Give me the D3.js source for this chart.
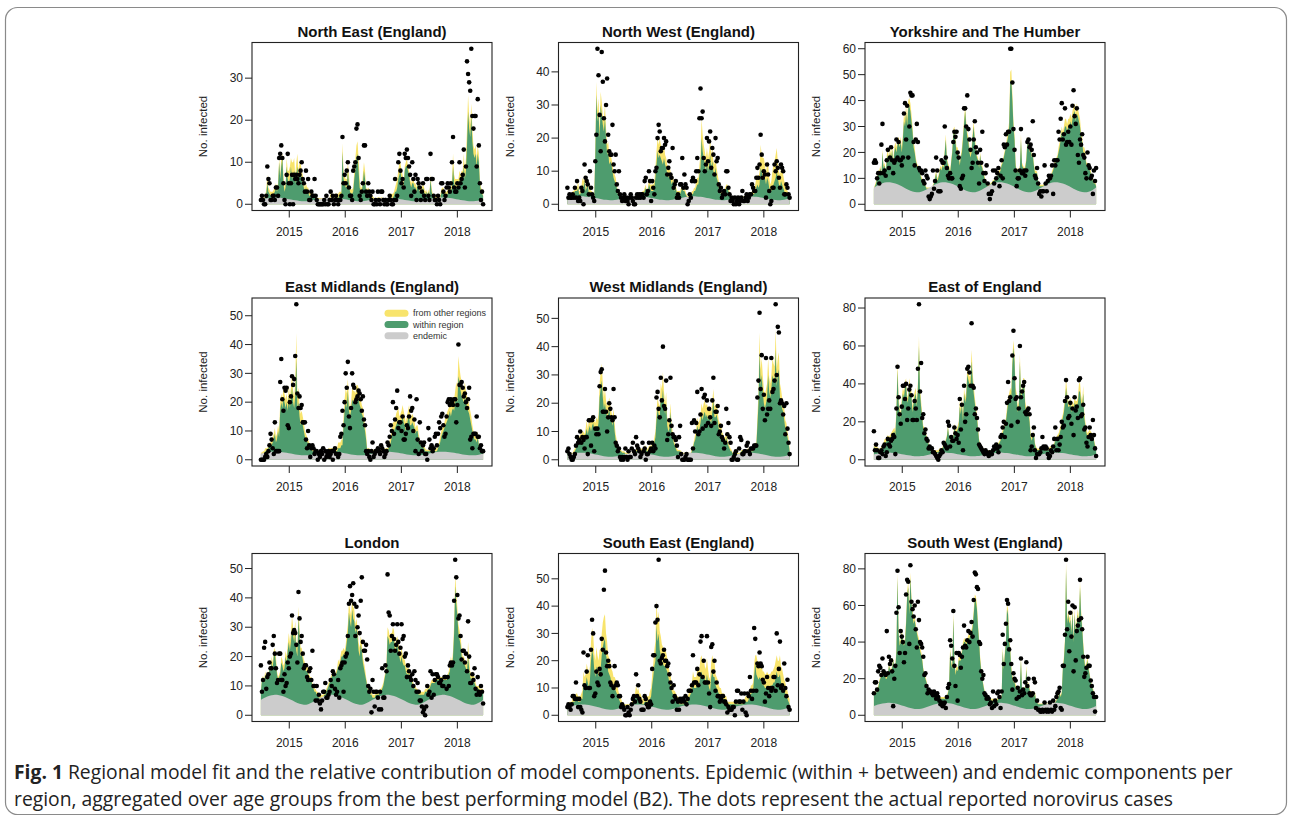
<!DOCTYPE html>
<html><head><meta charset="utf-8">
<script src="https://cdn.jsdelivr.net/npm/d3@7"></script>
<style>body{margin:0;background:#fff;} svg{display:block}</style>
</head><body>
<svg id="chart" width="1292" height="818"></svg>
<script>
// ---------------- DATA ----------------
const regions = ["North East (England)","North West (England)","Yorkshire and The Humber",
  "East Midlands (England)","West Midlands (England)","East of England",
  "London","South East (England)","South West (England)"];
const yearLabels = ["2015","2016","2017","2018"];
const legendLabels = ["from other regions","within region","endemic"];
const yAxisTitle = "No. infected";
const firstWeek = "2014-06-30";   // first weekly observation
const endemicStepWeeks = 4;       // endemic component read every 4 weeks

const yTicksNE=[0,10,20,30], yTicksNW=[0,10,20,30,40], yTicksYH=[0,10,20,30,40,50,60],
      yTicksEM=[0,10,20,30,40,50], yTicksWM=[0,10,20,30,40,50], yTicksEE=[0,20,40,60,80],
      yTicksLO=[0,10,20,30,40,50], yTicksSE=[0,10,20,30,40,50], yTicksSW=[0,20,40,60,80];

// observed weekly cases (dots)
const obsNE=[1,2,1,0,0,2,9,6,5,1,1,2,2,1,4,4,2,11,12,14,11,5,1,0,7,12,
5,0,5,7,0,7,6,7,6,5,7,8,10,6,5,3,8,3,6,1,1,3,2,2,6,2,
1,0,0,0,0,0,0,1,0,2,0,0,1,3,1,2,0,1,2,1,0,1,1,2,16,5,
7,5,8,10,4,2,2,1,8,9,10,18,19,11,2,1,3,5,14,14,3,2,5,3,2,1,
3,0,0,1,0,3,1,0,3,3,1,0,1,0,0,1,2,1,0,0,1,6,1,2,10,12,
8,5,6,4,12,11,13,11,9,7,2,10,6,3,7,1,6,5,4,1,3,5,2,1,6,6,
2,1,12,6,6,2,1,1,0,2,1,0,5,5,3,1,2,4,5,4,3,5,10,16,4,3,
3,5,4,10,5,6,7,13,4,9,34,31,29,27,37,21,18,21,21,9,25,14,5,1,3,0];
const withinNE=[1.5,1.5,1.2,1,1.5,2.5,5,3,2.5,2,2,2,2.5,3,4,3,4,10,6,9,11,5,3,4,9,6,
5,6,9,6,7,8,5,7,9,6,7,8,6,5,4,3,4,3,3,2,2,2,2,1.5,2,1.5,
1.2,1,1,1,1,1,1,1,1,1.2,1,1,1.2,1.5,1.5,1.5,1.3,1.5,1.5,1.5,1.5,2,2,2,12.5,6,
5,4,4,8,5,3,2.5,2.5,3,6,8,11,12,8,4,3,3,5,8,6,3,2.5,3,2.5,2,1.5,
1.5,1.2,1,1,1,1.2,1.2,1,1.2,1.2,1,1,1,1,1,1.2,1.5,1.5,1.5,1.5,2,3,3,4,6,7,
8,6,5,4,8,9,9,8,7,5,4,5,5,4,4,3,5,4,3,3,3,4,3,2,3,2,
3,2,6,3,2,2,1.5,1.5,1.2,1.5,1.5,1.5,2.5,3,3,2,2,2,2.5,3,3,3,4,9,5,4,
4,4,4,6,5,6,6,9,6,8,14,22,18,16,21,15,12,11,12,9,12,10,5,3,2.5,2];
const otherNE=[0.5,0.5,0.5,0.5,0.5,1,2,1,1,1,1,1,1,1,1,1,1,1,1,2,1,2,1,1,2,2,
3,3,2,4,3,3,2,3,3,2,3,2,2,2,1,1,1,1,1,1,1,1,1,0.5,0.5,0.5,
0.5,0.5,0.5,0.5,0.5,0.5,0.5,0.5,0.5,0.5,0.5,0.5,0.5,1,1,1,1,1,1,1,1,1,1,1,2,2,
2,2,2,2,2,1,1,1,1,2,3,3,3,3,2,1,1,2,2,2,1,1,1,1,1,0.5,
0.5,0.5,0.5,0.5,0.5,0.5,0.5,0.5,0.5,0.5,0.5,0.5,0.5,0.5,0.5,0.5,1,1,1,1,1,1,2,2,2,3,
2,2,2,1,1,1,2,1,1,1,1,1,1,1,1,1,1,1,1,1,1,1,1,1,0.5,0.5,
0.5,0.5,1,1,0.5,0.5,0.5,0.5,0.5,0.5,0.5,0.5,1,1,1,1,1,1,1,1,1,1,2,3,2,2,
2,2,2,2,2,2,2,3,2,3,4,4,3,3,3,3,2,2,2,2,2,2,1,1,1,0.5];
const endemicNE=[1.15,1.38,1.53,1.6,1.6,1.51,1.35,1.15,0.95,0.79,0.7,0.75,0.93,
1.15,1.38,1.53,1.6,1.6,1.51,1.35,1.15,0.95,0.79,0.7,0.75,0.93,
1.15,1.38,1.53,1.6,1.6,1.51,1.35,1.15,0.95,0.79,0.7,0.75,0.93,
1.15,1.38,1.53,1.6,1.6,1.51,1.35,1.15,0.95,0.79,0.7,0.75,0.93,1.15];

const obsNW=[5,2,3,2,2,3,2,5,2,7,1,2,1,5,4,0,12,8,7,6,3,10,5,3,2,1,
13,21,47,39,27,16,46,37,26,19,30,38,21,16,15,15,24,12,10,15,6,4,10,3,2,1,
2,3,1,2,1,0,2,3,2,1,0,0,2,3,2,3,2,3,3,2,7,8,3,4,10,7,
1,7,5,3,10,11,20,24,22,16,17,17,20,18,19,9,11,13,9,8,17,5,6,7,2,3,
2,6,6,14,5,9,6,5,0,1,3,2,7,8,7,7,10,14,10,26,35,26,28,14,10,12,
20,13,19,22,11,17,15,9,20,13,14,6,4,5,2,3,4,3,10,10,5,3,1,2,1,0,
2,0,1,2,0,1,2,4,1,1,2,3,1,2,3,3,6,5,4,4,8,11,8,12,21,15,
8,10,9,2,12,9,4,0,1,5,5,12,10,13,11,8,5,12,11,10,3,3,6,5,3,2];
const withinNW=[2,2,2,2,2,3,3,4,4,4,5,3,3,4,6,5,7,4,5,6,3,4,3,3,2,2,
15,33,25,28,20,30,27,24,22,26,20,15,16,12,13,12,10,8,7,6,5,3,3,2.5,2,2,
2,2,1.5,1.5,1.5,1.5,1.5,1.5,1.5,1.5,1.5,2,2,2,2,2,2,2,3,3,4,5,3,4,6,5,
4,4,4,5,8,12,16,14,15,14,13,12,14,12,11,9,8,9,8,6,7,5,4,5,3,3,
3,3,4,5,4,4,3,2.5,2,2,2,2,3,3,4,4,5,6,6,9,11,20,16,14,12,10,
13,10,12,15,11,13,10,9,11,8,7,5,4,3,3,3,3,4,5,5,4,3,2.5,2,2,2,
1.5,1.5,1.5,1.5,1.5,1.5,1.5,2,2,2,2,2,2,2,2,2.5,3,3,3,4,5,6,5,6,11,10,
8,9,8,6,8,7,5,4,4,5,6,7,8,10,8,6,5,7,6,5,4,3,3,3,2.5,2];
const otherNW=[0.5,0.5,0.5,0.5,1,1,1,1,1,1,2,1,1,1,2,2,2,1,1,2,1,1,1,1,0.5,0.5,
2,4,3,4,3,4,4,3,4,4,3,3,3,3,2,2,2,2,2,2,1,1,1,1,0.5,0.5,
0.5,0.5,0.5,0.5,0.5,0.5,0.5,0.5,0.5,0.5,0.5,0.5,1,1,1,1,1,1,1,1,1,1,1,1,2,1,
2,2,2,2,3,4,4,4,5,4,4,4,4,3,3,3,3,3,2,2,2,2,1,1,1,1,
1,1,1,1,1,1,1,0.5,0.5,0.5,0.5,0.5,1,1,1,1,2,2,2,3,4,6,5,4,4,4,
4,4,4,5,4,4,3,3,3,3,2,2,2,1,1,1,1,1,1,1,1,1,0.5,0.5,0.5,0.5,
0.5,0.5,0.5,0.5,0.5,0.5,0.5,0.5,0.5,0.5,0.5,0.5,1,1,1,1,1,1,2,2,3,3,3,4,7,5,
6,5,4,3,5,5,3,2,3,5,6,6,7,7,5,4,4,4,5,4,3,3,2,1,1,1];
const endemicNW=[1.8,2.1,2.3,2.4,2.4,2.28,2.06,1.8,1.54,1.32,1.2,1.27,1.5,
1.8,2.1,2.3,2.4,2.4,2.28,2.06,1.8,1.54,1.32,1.2,1.27,1.5,
1.8,2.1,2.3,2.4,2.4,2.28,2.06,1.8,1.54,1.32,1.2,1.27,1.5,
1.8,2.1,2.3,2.4,2.4,2.28,2.06,1.8,1.54,1.32,1.2,1.27,1.5,1.8];

const obsYH=[16,17,16,10,12,8,12,23,31,12,13,11,17,21,14,18,22,17,12,16,17,25,18,24,17,17,
15,18,35,39,25,38,18,30,43,42,42,24,15,25,31,24,14,13,13,12,9,8,13,11,10,3,
2,3,4,13,6,9,18,13,5,5,5,17,16,16,30,18,14,11,10,12,10,10,24,28,26,28,
20,18,7,6,10,11,37,37,30,42,29,25,21,14,16,25,32,22,20,16,8,21,16,28,12,9,
12,15,8,4,2,4,5,13,8,13,10,12,14,7,11,17,10,23,22,27,23,28,28,60,60,47,
29,21,13,7,10,10,13,29,12,12,13,11,13,24,25,22,23,21,32,19,11,10,14,8,4,5,
3,5,5,15,8,5,9,11,10,11,15,4,17,15,17,17,28,25,33,39,25,27,37,23,24,28,
24,30,23,38,44,34,31,37,19,16,25,23,27,19,18,12,10,20,15,14,10,11,4,13,9,14];
const withinYH=[6,7,8,10,12,12,14,11,20,14,15,12,17,19,16,20,17,21,15,20,22,20,23,24,22,24,
20,25,32,30,35,30,37,38,36,32,28,22,20,17,15,14,13,12,10,9,8,8,7,6,6,6,
6,6,6,7,8,10,12,9,10,12,14,13,15,14,20,25,17,15,14,12,16,20,27,28,24,20,
20,18,15,18,20,25,31,36,30,26,24,20,18,20,26,30,24,20,18,17,14,19,15,14,12,10,
9,8,7,7,7,8,8,9,9,10,10,11,12,12,13,15,16,18,20,22,24,26,30,47,48,40,
30,25,15,12,13,12,14,25,15,14,13,14,17,24,23,20,22,18,19,15,12,12,12,9,7,7,
7,7,7,8,8,8,9,10,10,11,12,13,15,16,17,18,20,22,25,28,26,28,30,30,28,30,
30,32,30,33,35,36,32,35,34,32,30,26,24,20,20,18,15,15,14,13,12,10,9,8,8,7];
const otherYH=[0.5,0.5,1,1,1,1,1,1,1,1,1,1,2,2,2,2,2,2,2,2,2,2,2,2,2,2,
2,2,3,3,3,3,3,3,3,3,2,2,2,1,1,1,1,1,1,1,1,1,0.5,0.5,0.5,0.5,
0.5,0.5,0.5,0.5,0.5,1,1,1,1,1,1,1,1,1,1,2,1,1,1,1,1,1,2,2,2,2,
2,2,1,1,2,2,2,2,2,2,2,2,2,2,2,2,2,2,1,1,1,1,1,1,1,1,
0.5,0.5,0.5,0.5,0.5,0.5,0.5,0.5,0.5,0.5,0.5,0.5,1,1,1,1,1,1,1,1,2,2,2,4,4,3,
2,2,1,1,1,1,1,2,1,1,1,1,1,2,2,1,2,1,1,1,1,1,0.5,0.5,0.5,0.5,
0.5,0.5,0.5,0.5,0.5,0.5,0.5,0.5,0.5,0.5,1,1,1,1,1,1,2,2,2,2,2,2,3,3,3,3,
3,3,3,3,3,3,3,4,3,3,3,2,2,2,2,2,1,1,1,1,1,1,1,1,0.5,0.5];
const endemicYH=[6.5,7.5,8.2,8.5,8.5,8.1,7.4,6.5,5.6,4.9,4.5,4.7,5.5,
6.5,7.5,8.2,8.5,8.5,8.1,7.4,6.5,5.6,4.9,4.5,4.7,5.5,
6.5,7.5,8.2,8.5,8.5,8.1,7.4,6.5,5.6,4.9,4.5,4.7,5.5,
6.5,7.5,8.2,8.5,8.5,8.1,7.4,6.5,5.6,4.9,4.5,4.7,5.5,6.5];

const obsEM=[0,0,0,0,1,2,1,3,5,9,7,4,2,13,3,3,3,3,27,35,21,17,25,24,25,12,
11,20,22,29,26,28,36,54,23,18,22,18,19,13,13,13,7,4,10,5,1,4,5,4,2,3,
3,0,2,1,3,2,4,0,3,1,2,3,1,2,3,0,3,4,2,2,1,2,8,9,17,12,
20,30,25,34,15,11,18,30,26,25,20,21,22,24,23,21,17,22,14,12,3,2,3,1,0,3,
6,1,2,3,3,4,3,2,5,4,3,1,2,3,6,5,8,12,10,20,9,14,18,24,11,13,
13,10,15,7,7,9,12,11,15,22,17,18,10,14,3,21,7,2,13,6,3,5,6,2,2,0,
11,7,4,5,3,4,8,9,5,9,13,11,15,16,12,8,9,15,20,21,19,21,20,19,21,21,
13,19,40,26,26,27,25,22,23,20,18,21,25,7,8,4,9,9,9,15,8,8,4,5,3,3];
const withinEM=[2,2,2,2,3,3,3,4,5,5,5,6,7,9,6,7,10,8,17,20,18,22,20,18,20,17,
22,18,21,25,20,18,22,35,18,20,15,12,14,12,10,8,7,6,6,5,4,4,3,3,3,3,
3,3,2.5,2.5,2.5,2.5,2.5,2.5,2.5,2.5,2.5,3,3,3,3,3,3,3,3,3,4,4,4,5,5,12,
17,20,18,24,17,15,17,21,20,20,19,22,22,21,19,18,16,15,12,10,7,3,3,3,3,3,
3,3,3,2.5,2.5,2.5,2.5,2.5,3,3,3,3,3,3,3,4,5,6,8,10,10,11,12,13,14,12,
12,13,15,13,12,10,12,14,15,12,12,13,12,11,9,10,10,7,6,5,5,4,4,3,3,3,
3,3,3,2.5,2.5,2.5,3,3,3,4,5,6,8,9,10,11,12,13,14,15,17,15,17,18,17,20,
22,20,29,27,24,22,21,20,22,20,18,17,16,14,12,10,8,7,7,6,8,5,4,3,3,3];
const otherEM=[0.5,0.5,1,1,1,1,1,1,1,1,2,2,2,2,2,2,2,2,3,3,3,3,3,3,3,3,
4,4,4,5,4,4,5,9,5,5,4,4,3,3,3,2,2,2,1,1,1,1,1,0.5,0.5,0.5,
0.5,0.5,0.5,0.5,0.5,0.5,0.5,0.5,0.5,0.5,0.5,1,1,1,1,1,1,1,1,1,2,2,2,2,2,3,
4,5,5,4,4,3,3,4,4,4,4,4,4,4,3,3,3,3,3,2,2,1,1,1,0.5,0.5,
0.5,0.5,0.5,0.5,0.5,0.5,0.5,0.5,0.5,0.5,0.5,0.5,1,1,1,1,2,2,3,3,3,3,4,4,4,3,
4,4,4,4,3,3,3,3,4,4,3,3,3,3,2,2,2,2,1,1,1,1,1,1,0.5,0.5,
0.5,0.5,0.5,0.5,0.5,0.5,0.5,1,1,1,1,2,2,2,2,2,3,3,3,3,3,3,4,4,4,4,
5,5,7,5,5,5,4,4,5,4,4,4,3,3,3,2,2,2,2,2,2,1,1,1,0.5,0.5];
const endemicEM=[2.15,2.5,2.7,2.8,2.8,2.67,2.44,2.15,1.86,1.63,1.5,1.58,1.83,
2.15,2.5,2.7,2.8,2.8,2.67,2.44,2.15,1.86,1.63,1.5,1.58,1.83,
2.15,2.5,2.7,2.8,2.8,2.67,2.44,2.15,1.86,1.63,1.5,1.58,1.83,
2.15,2.5,2.7,2.8,2.8,2.67,2.44,2.15,1.86,1.63,1.5,1.58,1.83,2.15];

const obsWM=[3,4,2,1,0,0,1,2,5,8,6,7,10,6,8,7,4,8,8,2,14,14,5,14,15,3,
11,9,11,9,26,31,32,17,17,25,17,10,15,20,18,15,14,25,15,6,5,3,4,1,0,1,
0,1,4,1,0,3,1,1,4,6,3,2,8,5,4,3,1,2,6,3,4,0,2,2,6,3,
4,6,3,5,4,22,24,18,15,29,21,40,19,18,28,7,9,14,29,12,9,8,8,7,5,1,
8,12,2,0,0,0,1,2,0,0,0,0,13,4,14,10,13,24,9,10,16,25,11,22,23,12,
21,13,18,15,12,21,29,13,17,17,19,9,10,12,8,7,4,6,18,9,13,8,6,0,0,1,
2,3,0,0,4,8,7,2,2,3,3,5,6,3,2,4,4,4,5,5,5,22,28,52,25,37,
18,23,14,36,16,18,21,18,36,24,25,28,55,30,47,45,20,21,20,16,19,9,20,11,6,2];
const withinWM=[2.5,2.5,2,2,2,2,2.5,3,4,5,6,6,7,7,8,8,7,9,11,9,11,12,10,12,13,11,
10,12,11,13,22,25,28,22,18,20,17,15,16,18,15,14,12,15,10,7,5,4,3,3,3,2.5,
2.5,2.5,2,2,2,2,2,2,2,2,2,2,3,3,3,3,3,3,3,3,4,4,3,3,4,4,
4,5,5,6,8,14,18,16,15,22,20,25,19,16,20,12,10,11,17,10,8,6,5,4,3,3,
3,3,2.5,2,2,2,2,2,2,2,2,2,3,4,6,7,9,12,10,11,13,16,14,16,17,15,
16,14,15,14,13,17,21,15,15,16,14,11,10,10,8,7,6,6,8,6,5,4,3,3,2,2,
2,2,2,2,2,2,3,3,3,3,3,3,3,3,3,3,3,3,4,5,5,12,20,38,26,30,
24,20,18,20,22,30,24,22,25,30,28,27,39,26,30,32,22,20,18,17,14,11,10,8,6,3];
const otherWM=[0.5,0.5,0.5,0.5,0.5,0.5,1,1,1,1,1,2,2,2,2,2,2,2,3,2,3,3,3,3,3,3,
3,3,3,3,5,6,6,5,4,5,4,4,4,4,4,3,3,3,3,2,2,1,1,1,0.5,0.5,
0.5,0.5,0.5,0.5,0.5,0.5,0.5,0.5,0.5,0.5,0.5,0.5,1,1,1,1,1,1,1,1,1,1,1,1,1,1,
1,1,1,2,2,3,4,4,4,5,5,6,5,4,4,3,3,3,3,3,2,2,1,1,1,0.5,
0.5,0.5,0.5,0.5,0.5,0.5,0.5,0.5,0.5,0.5,0.5,0.5,1,1,1,2,2,3,3,3,3,4,4,4,4,4,
4,4,4,4,4,4,4,4,4,4,3,3,3,3,2,2,2,2,2,2,1,1,1,0.5,0.5,0.5,
0.5,0.5,0.5,0.5,0.5,0.5,0.5,0.5,0.5,0.5,0.5,0.5,1,1,1,1,1,1,1,1,1,3,4,7,6,6,
6,5,5,5,5,6,5,5,5,6,6,6,7,6,6,6,5,5,4,4,4,3,3,2,2,1];
const endemicWM=[1.75,2.1,2.4,2.5,2.5,2.35,2.1,1.75,1.4,1.15,1.0,1.1,1.4,
1.75,2.1,2.4,2.5,2.5,2.35,2.1,1.75,1.4,1.15,1.0,1.1,1.4,
1.75,2.1,2.4,2.5,2.5,2.35,2.1,1.75,1.4,1.15,1.0,1.1,1.4,
1.75,2.1,2.4,2.5,2.5,2.35,2.1,1.75,1.4,1.15,1.0,1.1,1.4,1.75];

const obsEE=[15,5,8,5,1,1,4,5,3,7,8,2,4,11,8,7,10,11,13,12,3,27,49,33,24,19,
28,39,39,32,40,21,27,37,39,34,21,21,31,27,21,48,82,36,51,22,24,14,16,11,10,6,
7,6,6,4,4,3,2,1,0,2,3,5,4,9,8,7,6,20,18,7,12,10,10,17,14,11,
13,9,32,16,29,5,39,20,24,48,49,46,39,72,39,38,24,27,22,16,8,7,6,5,4,3,
5,4,3,2,4,3,3,5,7,6,8,6,4,7,12,13,17,20,12,19,30,41,31,33,18,55,
68,43,32,33,20,27,60,33,36,39,41,25,24,26,27,24,5,7,13,17,5,1,3,3,3,4,
6,12,7,6,7,6,3,1,2,5,4,7,11,17,5,11,5,8,12,20,17,18,31,42,33,22,
23,30,19,27,13,33,26,28,22,42,43,23,24,29,16,17,9,7,12,17,13,11,21,13,6,2];
const withinEE=[7,6,6,6,5,5,5,6,6,8,9,9,10,11,10,11,12,13,14,15,13,25,47,30,24,22,
30,35,33,38,40,30,32,40,35,33,25,30,33,35,28,38,60,35,28,22,16,15,14,12,10,8,
6,5,5,4,4,4,4,4,4,5,5,5,6,8,8,10,12,17,12,10,12,11,12,17,15,14,
16,18,28,24,30,20,35,30,33,45,42,40,40,52,42,35,30,25,22,16,10,8,7,6,5,5,
4,4,4,4,4,4,4,5,5,6,7,7,8,9,10,12,14,16,18,20,25,30,32,35,33,50,
59,52,35,32,25,28,52,33,35,40,40,28,24,26,24,20,12,10,12,14,8,6,5,5,5,5,
5,6,6,5,5,5,5,5,6,6,6,7,8,10,11,12,12,14,16,20,22,25,30,38,32,28,
28,30,25,28,26,30,28,28,30,36,36,30,28,35,22,18,14,12,13,14,13,12,13,10,7,6];
const otherEE=[1,1,1,1,1,1,1,1,1,1,2,2,2,2,2,2,2,2,2,2,2,3,5,3,3,3,
3,3,3,3,3,3,3,3,3,3,3,3,3,3,3,3,5,3,3,2,2,2,1,1,1,1,
1,1,1,1,1,1,1,1,1,1,1,1,1,1,1,1,1,1,1,1,1,1,1,2,2,2,
2,2,3,3,3,3,3,3,3,4,4,4,4,6,4,4,3,3,2,2,1,1,1,1,1,1,
1,1,1,1,1,1,1,1,1,1,1,1,1,1,1,2,2,2,2,2,3,3,3,3,3,4,
4,4,3,3,3,3,4,3,3,3,3,3,3,3,3,2,2,2,1,1,1,1,1,1,1,1,
1,1,1,1,1,1,1,1,1,1,1,1,1,1,1,1,2,2,2,2,2,3,3,5,4,3,
3,3,3,3,3,3,3,3,3,4,5,4,3,4,3,2,2,2,2,2,2,2,1,1,1,1];
const endemicEE=[2.8,3.3,3.6,3.8,3.8,3.6,3.2,2.8,2.4,2.0,1.8,1.9,2.3,
2.8,3.3,3.6,3.8,3.8,3.6,3.2,2.8,2.4,2.0,1.8,1.9,2.3,
2.8,3.3,3.6,3.8,3.8,3.6,3.2,2.8,2.4,2.0,1.8,1.9,2.3,
2.8,3.3,3.6,3.8,3.8,3.6,3.2,2.8,2.4,2.0,1.8,1.9,2.3,2.8];

const obsLO=[17,8,12,23,25,9,13,14,18,16,16,24,27,21,16,11,12,21,21,12,12,8,14,10,11,18,
16,20,21,34,28,29,28,24,18,42,33,25,27,21,16,17,17,13,12,15,16,12,22,10,10,5,
10,5,7,4,2,5,8,8,11,6,6,7,8,12,10,15,14,9,7,8,12,6,16,17,18,8,
18,20,21,27,38,44,39,41,45,38,27,37,30,34,28,39,47,25,22,22,24,19,10,8,9,1,
12,8,3,8,8,6,2,8,2,16,6,6,17,15,48,35,34,22,27,31,26,22,24,31,25,21,
23,31,26,27,20,21,13,17,15,13,12,14,10,15,12,8,11,8,5,5,3,1,2,0,3,10,
7,8,15,6,14,7,12,14,14,13,11,11,12,10,10,13,13,9,13,10,17,18,17,18,39,53,
47,41,33,34,27,19,22,22,18,21,15,32,20,11,11,14,12,16,9,7,13,8,7,10,8,4];
const withinLO=[8,12,13,11,14,12,14,13,16,15,18,16,20,21,18,14,12,13,14,18,17,15,16,20,18,22,
25,22,25,30,27,25,28,22,20,33,27,20,21,19,17,16,15,15,14,13,12,12,10,9,8,8,
7,7,6,6,6,6,6,7,7,8,9,10,11,12,13,14,15,13,14,15,17,16,18,20,20,21,
20,22,25,28,35,32,30,36,33,32,28,30,27,22,20,24,22,18,16,14,12,10,8,8,7,7,
6,6,6,7,7,7,7,8,8,9,10,12,14,16,27,26,24,25,25,27,26,21,23,24,22,20,
18,20,18,17,17,15,14,14,14,12,12,11,10,9,9,8,8,7,7,7,7,7,7,8,8,8,
9,9,10,11,11,11,11,12,12,12,12,12,12,12,12,12,12,12,13,14,15,18,16,20,28,44,
38,34,28,26,24,20,18,18,17,16,15,20,16,13,12,13,12,11,10,9,9,9,8,8,8,8];
const otherLO=[0.5,0.5,0.5,1,1,1,1,1,1,1,2,2,2,2,2,1,1,1,1,2,2,2,2,2,2,2,
3,3,3,4,3,3,4,3,3,4,3,3,2,2,2,2,2,2,2,1,1,1,1,1,1,1,
1,1,1,1,1,1,1,1,1,1,1,1,1,1,1,1,1,1,1,1,2,2,2,2,2,2,
2,2,3,3,4,4,4,4,4,4,3,3,3,3,3,3,3,2,2,2,1,1,1,1,1,1,
1,1,1,1,1,1,1,1,1,1,1,1,1,2,3,3,3,3,3,3,3,3,3,3,3,3,
3,3,3,2,2,2,2,2,2,2,2,1,1,1,1,1,1,1,1,1,1,1,1,1,1,1,
1,1,1,1,1,1,1,1,1,1,1,1,1,1,1,1,1,1,1,1,2,2,2,2,3,4,
4,3,3,3,3,3,2,2,2,2,2,5,3,2,2,2,2,2,1,1,1,1,1,1,1,1];
const endemicLO=[5.25,6.1,6.7,7,7,6.65,6.0,5.25,4.5,3.85,3.5,3.7,4.4,
5.25,6.1,6.7,7,7,6.65,6.0,5.25,4.5,3.85,3.5,3.7,4.4,
5.25,6.1,6.7,7,7,6.65,6.0,5.25,4.5,3.85,3.5,3.7,4.4,
5.25,6.1,6.7,7,7,6.65,6.0,5.25,4.5,3.85,3.5,3.7,4.4,5.25];

const obsSE=[3,4,3,2,4,7,7,6,12,6,3,6,3,2,1,23,11,10,16,22,10,10,24,35,30,7,
8,16,12,11,17,15,28,24,46,53,23,18,20,18,12,11,7,10,18,11,12,11,7,7,3,4,
3,2,0,0,3,1,0,2,4,6,7,5,15,7,11,6,5,2,2,2,7,6,4,3,3,5,
4,17,22,22,34,40,35,57,20,19,21,22,24,20,20,18,19,15,12,10,5,11,7,6,2,5,
2,6,5,6,6,5,7,4,6,9,9,9,11,22,12,12,12,17,11,15,27,29,14,20,12,12,
29,12,8,3,25,26,16,20,9,12,7,7,5,6,7,7,5,5,4,1,3,2,2,2,3,3,
0,5,9,9,5,5,8,2,5,8,1,0,8,7,14,9,6,9,32,28,9,19,18,23,19,18,
13,12,5,8,14,10,7,10,9,10,14,14,9,30,11,17,27,10,11,9,19,10,7,13,3,2];
const withinSE=[3,3,4,4,4,5,5,5,6,6,5,5,5,6,6,12,10,11,14,12,10,13,20,24,22,17,
14,18,16,14,17,17,22,25,27,28,22,20,16,15,14,12,11,10,10,9,8,7,6,5,4,4,
3,3,3,3,3,3,3,3,4,4,5,6,8,6,7,6,6,5,4,4,5,5,5,5,5,6,
7,11,14,18,20,33,27,30,24,22,20,19,18,18,17,16,14,12,11,9,8,7,7,6,5,5,
4,4,4,4,4,4,4,5,5,6,7,8,9,12,10,10,10,12,11,12,15,16,14,15,13,12,
15,12,10,9,14,16,14,14,11,10,9,8,7,7,6,6,6,5,5,4,4,4,4,4,4,4,
4,4,4,4,4,4,4,4,4,5,5,5,5,6,7,8,8,9,14,19,15,14,13,14,13,12,
11,11,10,10,11,10,10,10,11,11,12,12,14,16,14,14,15,12,11,10,9,8,7,6,5,4];
const otherSE=[1,1,1,1,1,2,2,2,2,2,2,2,2,2,3,4,4,4,5,5,5,5,7,8,8,6,
6,7,6,6,7,7,8,9,9,9,8,7,6,6,6,5,5,4,4,4,3,3,2,2,2,1,
1,1,1,1,1,1,1,1,1,2,2,2,3,3,3,2,2,2,2,2,2,2,2,2,2,3,
3,4,5,6,7,9,8,8,7,7,6,6,6,6,6,5,5,4,4,3,3,2,2,2,2,2,
2,1,1,1,1,1,1,1,2,2,2,3,3,4,4,4,4,5,5,5,6,6,5,6,5,5,
6,5,4,4,6,6,6,6,4,4,4,3,3,3,2,2,2,2,2,1,1,1,1,1,1,1,
1,1,1,1,1,1,1,1,1,1,2,2,2,2,2,3,3,3,5,3,7,6,6,6,6,6,
5,5,5,5,5,5,5,5,5,5,5,6,6,6,6,6,7,6,6,5,4,4,3,3,2,2];
const endemicSE=[3,3.5,3.8,4,4,3.8,3.4,3,2.6,2.2,2,2.1,2.5,
3,3.5,3.8,4,4,3.8,3.4,3,2.6,2.2,2,2.1,2.5,
3,3.5,3.8,4,4,3.8,3.4,3,2.6,2.2,2,2.1,2.5,
3,3.5,3.8,4,4,3.8,3.4,3,2.6,2.2,2,2.1,2.5,3];

const obsSW=[12,18,18,14,24,27,26,22,31,24,23,22,46,23,32,28,30,24,5,20,27,56,79,59,34,46,
43,40,29,34,66,74,73,39,82,62,58,54,60,47,37,62,52,40,39,37,32,22,23,16,12,14,
13,13,12,11,13,11,9,12,10,8,6,7,5,6,7,4,10,15,17,41,38,31,57,27,16,34,
8,34,33,26,32,37,49,38,37,41,46,40,45,51,43,63,78,77,70,69,40,39,24,20,22,12,
11,9,10,9,6,7,4,13,5,8,6,12,13,10,4,13,44,28,39,50,63,61,36,41,28,14,
23,20,19,9,15,10,13,31,11,14,12,18,29,16,20,12,11,11,12,20,18,4,8,3,3,2,
2,3,2,7,3,2,3,2,7,3,2,8,3,5,10,12,13,15,4,3,27,27,44,85,47,62,
35,56,43,60,24,59,30,46,49,52,74,53,47,32,21,23,26,32,27,27,19,16,12,10,2,10];
const withinSW=[12,13,12,14,15,18,20,22,24,22,22,20,20,22,27,25,24,26,30,26,26,35,75,45,38,40,
45,40,38,40,50,65,70,55,75,62,55,50,52,48,45,42,40,35,33,30,25,22,20,18,15,13,
12,12,11,11,10,10,10,9,9,9,9,9,9,9,9,9,10,12,15,35,28,25,53,30,22,25,
24,30,30,30,34,38,40,40,38,40,42,42,44,45,48,55,63,62,58,48,40,30,24,20,16,13,
11,10,10,9,9,8,8,8,8,8,8,8,9,10,9,10,35,25,33,40,58,55,40,35,25,20,
18,18,15,14,15,14,15,30,14,14,14,15,25,16,17,14,12,12,10,10,12,8,7,6,6,6,
6,6,6,6,6,6,6,6,6,6,6,6,6,7,8,9,10,12,10,12,25,30,40,80,50,55,
50,52,45,56,40,55,45,50,55,50,70,55,48,38,30,25,27,30,25,22,18,16,14,12,10,8];
const otherSW=[0.5,0.5,0.5,1,1,1,1,1,1,1,1,1,1,1,1,1,1,1,1,1,1,2,3,2,2,2,
2,2,2,2,2,3,3,3,3,3,3,2,2,2,2,2,2,2,2,2,1,1,1,1,1,1,
1,1,1,1,1,1,1,1,1,1,1,1,1,1,1,1,1,1,1,2,2,2,3,2,2,2,
2,2,2,2,2,2,2,2,2,2,2,2,2,2,2,3,3,3,3,2,2,2,2,1,1,1,
1,1,1,1,1,1,1,1,1,1,1,1,1,1,1,1,2,2,2,2,3,3,3,2,2,2,
2,2,2,2,1,1,1,2,1,1,1,1,2,1,1,1,1,1,1,1,1,1,0.5,0.5,0.5,0.5,
0.5,0.5,0.5,0.5,0.5,0.5,0.5,0.5,0.5,0.5,0.5,0.5,0.5,0.5,1,1,1,1,1,1,1,2,2,4,2,3,
3,3,2,3,2,3,2,3,3,3,3,3,2,2,2,2,2,2,2,1,1,1,1,1,1,1];
const endemicSW=[5.05,5.9,6.5,6.8,6.8,6.45,5.8,5.05,4.3,3.65,3.3,3.5,4.2,
5.05,5.9,6.5,6.8,6.8,6.45,5.8,5.05,4.3,3.65,3.3,3.5,4.2,
5.05,5.9,6.5,6.8,6.8,6.45,5.8,5.05,4.3,3.65,3.3,3.5,4.2,
5.05,5.9,6.5,6.8,6.8,6.45,5.8,5.05,4.3,3.65,3.3,3.5,4.2,5.05];

// ---------------- LAYOUT / STYLE ----------------
const colLeft=[252,558.5,865], rowTop=[42.5,298,553.5], boxW=240, boxH=168;
const COL_OTHER="#F8E46C", COL_WITHIN="#4E9C6E", COL_ENDEMIC="#CCCCCC";
const FONT="'Liberation Sans', Arial, Helvetica, sans-serif";

const panels=[
 {obs:obsNE,within:withinNE,other:otherNE,endemic:endemicNE,ticks:yTicksNE},
 {obs:obsNW,within:withinNW,other:otherNW,endemic:endemicNW,ticks:yTicksNW},
 {obs:obsYH,within:withinYH,other:otherYH,endemic:endemicYH,ticks:yTicksYH},
 {obs:obsEM,within:withinEM,other:otherEM,endemic:endemicEM,ticks:yTicksEM},
 {obs:obsWM,within:withinWM,other:otherWM,endemic:endemicWM,ticks:yTicksWM},
 {obs:obsEE,within:withinEE,other:otherEE,endemic:endemicEE,ticks:yTicksEE},
 {obs:obsLO,within:withinLO,other:otherLO,endemic:endemicLO,ticks:yTicksLO},
 {obs:obsSE,within:withinSE,other:otherSE,endemic:endemicSE,ticks:yTicksSE},
 {obs:obsSW,within:withinSW,other:otherSW,endemic:endemicSW,ticks:yTicksSW}
];

const svg=d3.select("#chart");
svg.append("rect").attr("x",5.5).attr("y",7.5).attr("width",1281).attr("height",807)
  .attr("rx",12).attr("fill","none").attr("stroke","#8a8a8a").attr("stroke-width",1.2);

const t0=d3.timeParse("%Y-%m-%d")(firstWeek);
const dateOf=i=>d3.timeDay.offset(t0,7*i);

panels.forEach((p,k)=>{
  const left=colLeft[k%3], top=rowTop[Math.floor(k/3)];
  const n=p.obs.length;
  const tA=dateOf(0), tB=dateOf(n-1), span=tB-tA;
  const x=d3.scaleTime().domain([new Date(+tA-0.04*span),new Date(+tB+0.04*span)]).range([left,left+boxW]);
  const M=d3.max([d3.max(p.obs),d3.max(p.within.map((v,i)=>v+(p.other[i]||0)))]);
  const y=d3.scaleLinear().domain([-0.04*M,1.04*M]).range([top+boxH,top]);
  const g=svg.append("g");
  const idx=d3.range(Math.min(p.within.length,p.other.length));

  g.append("path").datum(idx).attr("fill",COL_OTHER)
    .attr("d",d3.area().x(i=>x(dateOf(i))).y0(y(0)).y1(i=>y(p.within[i]+p.other[i])));
  g.append("path").datum(idx).attr("fill",COL_WITHIN)
    .attr("d",d3.area().x(i=>x(dateOf(i))).y0(y(0)).y1(i=>y(p.within[i])));
  const eIdx=d3.range(p.endemic.length);
  g.append("path").datum(eIdx).attr("fill",COL_ENDEMIC)
    .attr("d",d3.area().curve(d3.curveBasis)
      .x(j=>x(dateOf(Math.min(j*endemicStepWeeks,n-1)))).y0(y(0)).y1(j=>y(p.endemic[j])));

  g.selectAll("circle.obs").data(p.obs).join("circle").attr("class","obs")
    .attr("cx",(d,i)=>x(dateOf(i))).attr("cy",d=>y(d)).attr("r",2.3).attr("fill","#000");

  // box
  g.append("rect").attr("x",left).attr("y",top).attr("width",boxW).attr("height",boxH)
    .attr("fill","none").attr("stroke","#222").attr("stroke-width",1.1);

  // y axis
  p.ticks.forEach(v=>{
    g.append("line").attr("x1",left).attr("x2",left-7).attr("y1",y(v)).attr("y2",y(v))
      .attr("stroke","#222").attr("stroke-width",1);
    g.append("text").attr("x",left-9).attr("y",y(v)).attr("dy","0.35em").attr("text-anchor","end")
      .attr("font-family",FONT).attr("font-size",12).attr("fill","#222").text(v);
  });
  g.append("text").attr("transform",`translate(${left-49},${top+boxH/2}) rotate(-90)`)
    .attr("text-anchor","middle").attr("dy","0.35em").attr("font-family",FONT).attr("font-size",11.5)
    .attr("fill","#222").text(yAxisTitle);

  // x axis
  yearLabels.forEach(lab=>{
    const xt=x(new Date(+lab,0,1));
    g.append("line").attr("x1",xt).attr("x2",xt).attr("y1",top+boxH).attr("y2",top+boxH+7)
      .attr("stroke","#222").attr("stroke-width",1);
    g.append("text").attr("x",xt).attr("y",top+boxH+25).attr("text-anchor","middle")
      .attr("font-family",FONT).attr("font-size",12).attr("fill","#222").text(lab);
  });

  // title
  g.append("text").attr("x",left+boxW/2).attr("y",top-6).attr("text-anchor","middle")
    .attr("font-family",FONT).attr("font-weight","bold").attr("font-size",15).attr("fill","#111")
    .text(regions[k]);

  // legend (East Midlands panel)
  if(k===3){
    const cols=[COL_OTHER,COL_WITHIN,COL_ENDEMIC];
    legendLabels.forEach((lab,j)=>{
      const ly=top+15.3+j*11.2;
      g.append("line").attr("x1",left+136).attr("x2",left+153).attr("y1",ly).attr("y2",ly)
        .attr("stroke",cols[j]).attr("stroke-width",7).attr("stroke-linecap","round");
      g.append("text").attr("x",left+161).attr("y",ly).attr("dy","0.35em")
        .attr("font-family",FONT).attr("font-size",9).attr("fill","#333").text(lab);
    });
  }
});

// caption
const capFont="'Open Sans', 'Liberation Sans', sans-serif";
const cap1=svg.append("text").attr("x",14).attr("y",779).attr("font-family",capFont).attr("font-size",17).attr("fill","#222");
cap1.append("tspan").attr("font-weight","bold").text("Fig. 1");
cap1.append("tspan").text(" Regional model fit and the relative contribution of model components. Epidemic (within + between) and endemic components per");
const cap2=svg.append("text").attr("x",14).attr("y",806).attr("font-family",capFont).attr("font-size",17).attr("fill","#222")
  .text("region, aggregated over age groups from the best performing model (B2). The dots represent the actual reported norovirus cases");
const w1=cap1.node().getComputedTextLength();
const fs=17*1219/w1;
cap1.attr("font-size",fs); cap2.attr("font-size",fs);
</script>
</body></html>
